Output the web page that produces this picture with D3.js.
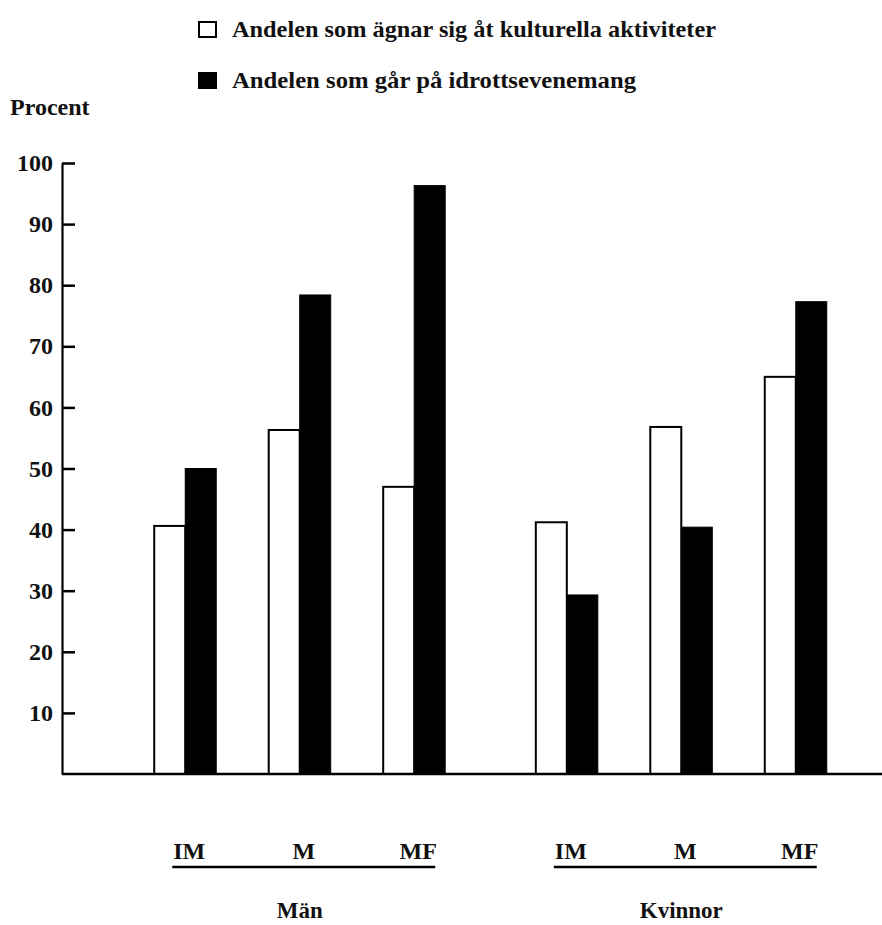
<!DOCTYPE html>
<html>
<head>
<meta charset="utf-8">
<script src="https://cdn.jsdelivr.net/npm/d3@7"></script>
<style>
  body { margin: 0; background: #fff; }
  text { font-family: "Liberation Serif", "Times New Roman", serif; font-weight: bold; fill: #111; }
</style>
</head>
<body>
<svg></svg>
<script>
const width = 882, height = 925

// data
const groups = ["Män", "Kvinnor"]
const subgroups = ["IM", "M", "MF"]
const seriesNames = ["Andelen som ägnar sig åt kulturella aktiviteter", "Andelen som går på idrottsevenemang"]
const kultur = [40.6, 56.3, 47.0, 41.2, 56.8, 65.0]
const idrott = [50.0, 78.4, 96.3, 29.3, 40.4, 77.3]
const yTicks = [10, 20, 30, 40, 50, 60, 70, 80, 90, 100]

var svg = d3.select("svg")
    .attr("width", width)
    .attr("height", height);

const rows = []
groups.forEach((g, gi) => {
    subgroups.forEach((s, si) => {
        const i = gi * subgroups.length + si
        rows.push({ group: g, sub: s, key: "k", value: kultur[i] })
        rows.push({ group: g, sub: s, key: "i", value: idrott[i] })
    })
})

const y = d3.scaleLinear().domain([0, 100]).range([774, 163])
const x0 = d3.scaleBand().domain(groups).range([128, 853]).paddingInner(0.1)
const x1 = d3.scalePoint().domain(subgroups).range([0, x0.bandwidth()]).padding(0.5)
const xs = d3.scaleBand().domain(["k", "i"]).range([-31, 31])

const center = d => x0(d.group) + x1(d.sub)

// y axis, ticks pointing inward
svg.append("g")
    .attr("transform", "translate(62,0)")
    .call(d3.axisLeft(y).tickValues(yTicks).tickSize(-13).tickSizeOuter(0).tickPadding(9))
    .call(g => g.select(".domain").attr("stroke-width", 2.2))
    .call(g => g.selectAll(".tick line").attr("stroke-width", 2.5))
    .call(g => g.selectAll(".tick text")
        .style("font-family", "'Liberation Serif', serif")
        .style("font-weight", "bold")
        .style("font-size", "24px")
        .attr("fill", "#111"));

// bars
svg.selectAll("rect.bar")
    .data(rows)
    .enter()
    .append("rect")
    .attr("class", "bar")
    .attr("x", d => center(d) + xs(d.key))
    .attr("y", d => y(d.value))
    .attr("width", xs.bandwidth())
    .attr("height", d => y(0) - y(d.value))
    .attr("fill", d => d.key == "k" ? "#fff" : "#000")
    .attr("stroke", "#000")
    .attr("stroke-width", d => d.key == "k" ? 2 : 1);

// baseline
svg.append("line")
    .attr("x1", 62).attr("x2", width)
    .attr("y1", y(0)).attr("y2", y(0))
    .attr("stroke", "#000")
    .attr("stroke-width", 2.5);

svg.append("text")
    .attr("x", 10).attr("y", 115)
    .style("font-size", "24px")
    .text("Procent");

// category labels and group labels
const labelRows = rows.filter(d => d.key == "k")
svg.selectAll("text.sub")
    .data(labelRows)
    .enter()
    .append("text")
    .attr("class", "sub")
    .attr("x", d => center(d) + 4)
    .attr("y", 859)
    .attr("text-anchor", "middle")
    .style("font-size", "24px")
    .text(d => d.sub);

svg.selectAll("line.under")
    .data(groups)
    .enter()
    .append("line")
    .attr("class", "under")
    .attr("x1", g => x0(g) + x1("IM") - 13)
    .attr("x2", g => x0(g) + x1("MF") + 21)
    .attr("y1", 867).attr("y2", 867)
    .attr("stroke", "#000")
    .attr("stroke-width", 2.5);

svg.selectAll("text.group")
    .data(groups)
    .enter()
    .append("text")
    .attr("class", "group")
    .attr("x", g => x0(g) + x1("M"))
    .attr("y", 918)
    .attr("text-anchor", "middle")
    .style("font-size", "23px")
    .text(g => g);

// legend
const legend = svg.selectAll("g.legend")
    .data(seriesNames)
    .enter()
    .append("g")
    .attr("class", "legend")
    .attr("transform", (d, i) => `translate(199,${22 + i * 51})`);

legend.append("rect")
    .attr("x", 0).attr("y", 0)
    .attr("width", 17).attr("height", 15)
    .attr("fill", (d, i) => i == 0 ? "#fff" : "#000")
    .attr("stroke", "#000")
    .attr("stroke-width", 2);

legend.append("text")
    .attr("x", 33).attr("y", 15)
    .style("font-size", "23px")
    .attr("textLength", (d, i) => i == 0 ? 484 : 404)
    .attr("lengthAdjust", "spacingAndGlyphs")
    .text(d => d);
</script>
</body>
</html>
